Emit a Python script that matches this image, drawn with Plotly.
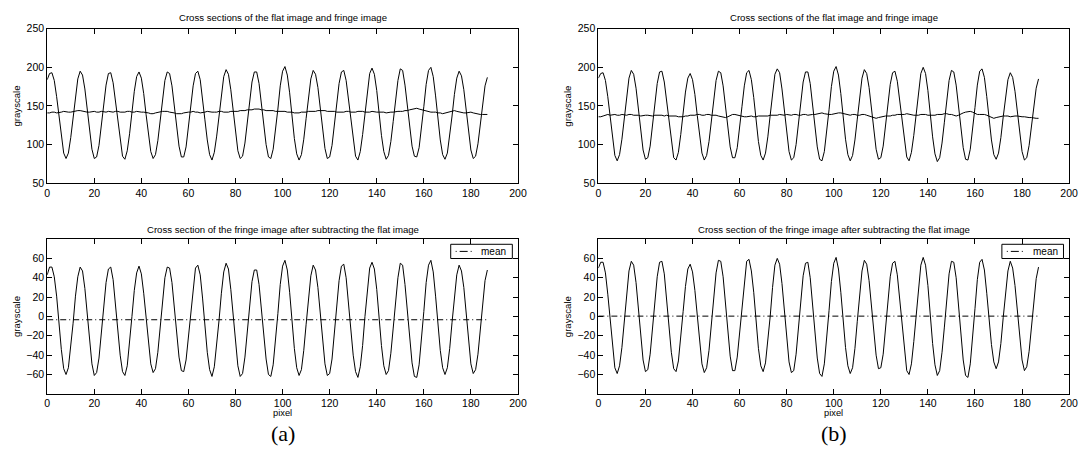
import plotly.graph_objects as go

W, H = 1090, 458

# ---------------- data ----------------
fringe_a = [
    184, 192, 193, 183, 162, 135, 108, 89, 82, 89,
    109, 136, 164, 185, 195, 190, 172, 146, 117, 94,
    82, 84, 99, 125, 153, 177, 192, 193, 180, 156,
    128, 102, 85, 81, 92, 114, 142, 169, 188, 194,
    186, 166, 139, 112, 91, 82, 87, 105, 132, 160,
    183, 194, 192, 176, 150, 122, 98, 84, 84, 97,
    121, 150, 176, 192, 195, 184, 161, 132, 106, 87,
    80, 90, 111, 139, 167, 188, 197, 191, 171, 143,
    115, 92, 82, 85, 102, 128, 156, 181, 194, 194,
    179, 154, 125, 100, 84, 82, 94, 117, 146, 176,
    195, 201, 190, 167, 136, 108, 88, 80, 87, 107,
    134, 163, 185, 196, 191, 174, 147, 119, 95, 82,
    84, 99, 124, 153, 179, 194, 196, 183, 158, 129,
    102, 85, 80, 91, 113, 142, 171, 192, 199, 191,
    170, 140, 112, 91, 81, 86, 104, 130, 159, 183,
    198, 196, 177, 151, 122, 98, 85, 84, 96, 119,
    149, 178, 196, 200, 188, 163, 133, 106, 87, 81,
    89, 110, 137, 165, 186, 195, 189, 171, 144, 116,
    93, 82, 85, 101, 127, 154, 176, 187,
]
flat_a = [
    141, 141, 142, 142, 141, 142, 142, 143, 142, 142,
    142, 143, 143, 144, 144, 143, 143, 142, 142, 143,
    143, 142, 142, 143, 142, 142, 143, 142, 142, 143,
    143, 142, 142, 142, 143, 143, 142, 142, 143, 142,
    142, 142, 141, 141, 140, 140, 141, 142, 143, 143,
    143, 143, 142, 141, 141, 140, 140, 140, 141, 142,
    142, 142, 143, 142, 142, 141, 142, 142, 143, 142,
    142, 142, 142, 143, 143, 142, 142, 142, 143, 143,
    143, 143, 144, 144, 144, 145, 145, 145, 146, 146,
    146, 145, 145, 144, 144, 144, 144, 143, 143, 143,
    143, 143, 142, 142, 142, 141, 141, 141, 142, 142,
    142, 143, 143, 143, 143, 144, 144, 144, 144, 143,
    143, 143, 143, 142, 142, 142, 142, 143, 143, 142,
    142, 142, 143, 143, 143, 142, 142, 142, 143, 142,
    142, 142, 142, 142, 141, 142, 142, 142, 143, 143,
    143, 143, 144, 144, 145, 146, 147, 147, 146, 145,
    144, 143, 143, 142, 142, 142, 141, 141, 140, 141,
    142, 143, 143, 144, 143, 142, 142, 141, 141, 142,
    142, 141, 140, 140, 139, 139, 139, 139,
]
fringe_b = [
    186, 192, 193, 183, 162, 134, 106, 86, 79, 87,
    107, 135, 163, 186, 196, 191, 173, 145, 117, 93,
    81, 83, 98, 124, 153, 179, 194, 195, 181, 156,
    127, 100, 83, 80, 90, 113, 141, 168, 186, 192,
    184, 165, 138, 110, 89, 80, 86, 104, 131, 160,
    183, 195, 193, 176, 149, 121, 97, 83, 83, 96,
    120, 149, 176, 193, 196, 184, 161, 131, 104, 86,
    80, 89, 110, 138, 168, 191, 198, 193, 172, 143,
    113, 91, 80, 83, 100, 126, 156, 181, 194, 194,
    179, 153, 124, 97, 81, 79, 91, 115, 145, 175,
    195, 201, 190, 166, 135, 107, 87, 79, 86, 106,
    133, 163, 186, 197, 192, 174, 146, 118, 94, 81,
    83, 98, 123, 152, 178, 193, 195, 182, 157, 128,
    101, 84, 79, 90, 112, 141, 171, 192, 200, 192,
    170, 139, 110, 88, 78, 83, 102, 129, 159, 183,
    196, 194, 177, 151, 121, 96, 81, 80, 94, 118,
    148, 177, 195, 198, 187, 162, 132, 106, 87, 81,
    89, 109, 136, 164, 184, 193, 187, 169, 143, 114,
    91, 80, 83, 99, 125, 152, 173, 185,
]
flat_b = [
    136, 136, 137, 138, 139, 138, 139, 139, 138, 138,
    139, 138, 138, 139, 139, 138, 138, 138, 137, 138,
    138, 138, 137, 137, 138, 138, 138, 138, 137, 138,
    137, 137, 137, 137, 136, 136, 136, 137, 137, 138,
    138, 138, 139, 139, 138, 138, 139, 139, 138, 138,
    138, 137, 136, 135, 135, 136, 138, 139, 139, 138,
    137, 136, 136, 136, 137, 137, 136, 136, 137, 137,
    137, 137, 137, 138, 138, 138, 138, 139, 138, 138,
    139, 138, 138, 139, 139, 138, 138, 139, 139, 138,
    139, 139, 139, 140, 140, 141, 140, 139, 139, 139,
    140, 140, 141, 141, 140, 139, 138, 138, 139, 139,
    138, 138, 139, 139, 138, 137, 136, 135, 134, 135,
    136, 137, 137, 137, 137, 138, 138, 139, 139, 139,
    139, 140, 139, 139, 138, 138, 138, 139, 139, 139,
    138, 138, 138, 138, 139, 139, 139, 140, 140, 139,
    139, 138, 137, 138, 140, 141, 142, 143, 143, 142,
    140, 139, 139, 139, 139, 138, 137, 135, 134, 135,
    136, 137, 137, 137, 137, 136, 137, 137, 137, 136,
    136, 136, 135, 135, 135, 134, 134, 134,
]

x_ticks = [0, 20, 40, 60, 80, 100, 120, 140, 160, 180, 200]
top_yticks = [50, 100, 150, 200, 250]
bot_yticks = [-60, -40, -20, 0, 20, 40, 60]

title_top = "Cross sections of the flat image and fringe image"
title_bot = "Cross section of the fringe image after subtracting the flat image"
panel_labels = ["(a)", "(b)"]
legend_label = "mean"

# ---------------- figure ----------------
FONT = "Liberation Sans"
fig = go.Figure()


def px(x):
    return x / W


def py(y):
    return 1 - y / H


panels = [
    dict(fr=fringe_a, fl=flat_a, x0=44.7),
    dict(fr=fringe_b, fl=flat_b, x0=602.0),
]
PW = 476.0
top_y = (23.3, 182.0)
bot_y = (239.3, 398.3)
MEAN_DASH = "6px,3px,1px,3px"

annotations = []
shapes = []
for i, p in enumerate(panels):
    n = min(len(p["fr"]), len(p["fl"]))
    xs = list(range(n))
    fr = p["fr"][:n]
    fl = p["fl"][:n]
    diff = [a - b for a, b in zip(fr, fl)]
    mean = sum(diff) / len(diff)
    top_idx = 2 * i + 1
    bot_idx = 2 * i + 2
    xt = "x" if top_idx == 1 else "x%d" % top_idx
    yt = "y" if top_idx == 1 else "y%d" % top_idx
    xb = "x%d" % bot_idx
    yb = "y%d" % bot_idx
    line = dict(color="black", width=1)
    fig.add_trace(go.Scatter(x=xs, y=fr, mode="lines", line=line, xaxis=xt, yaxis=yt, showlegend=False))
    fig.add_trace(go.Scatter(x=xs, y=fl, mode="lines", line=line, xaxis=xt, yaxis=yt, showlegend=False))
    fig.add_trace(go.Scatter(x=xs, y=diff, mode="lines", line=line, xaxis=xb, yaxis=yb, showlegend=False))
    fig.add_trace(go.Scatter(x=[xs[0], xs[-1]], y=[mean, mean], mode="lines", name=legend_label,
                             line=dict(color="black", width=1, dash=MEAN_DASH),
                             xaxis=xb, yaxis=yb, showlegend=False))

    xdom = [px(p["x0"]), px(p["x0"] + PW)]
    common = dict(showline=True, linecolor="black", linewidth=1, mirror="ticks",
                  ticks="inside", ticklen=5, tickcolor="black", tickwidth=1,
                  showgrid=False, zeroline=False,
                  tickfont=dict(family=FONT, size=10.5, color="black"))
    topname = "xaxis" if top_idx == 1 else "xaxis%d" % top_idx
    topyname = "yaxis" if top_idx == 1 else "yaxis%d" % top_idx
    fig.update_layout(**{
        topname: dict(domain=xdom, anchor=yt, range=[0, 200], tickvals=x_ticks, **common),
        topyname: dict(domain=[py(top_y[1]), py(top_y[0])], anchor=xt, range=[50, 250],
                       tickvals=top_yticks, **common),
        "xaxis%d" % bot_idx: dict(domain=xdom, anchor=yb, range=[0, 200], tickvals=x_ticks, **common),
        "yaxis%d" % bot_idx: dict(domain=[py(bot_y[1]), py(bot_y[0])], anchor=xb, range=[-80, 80],
                                  tickvals=bot_yticks,
                                  ticktext=[("\u2212%d" % -v) if v < 0 else str(v) for v in bot_yticks],
                                  **common),
    })
    cx = p["x0"] + PW / 2
    tfont = dict(family=FONT, size=9.6, color="black")
    annotations += [
        dict(text=title_top, x=px(cx), y=py(12), xref="paper", yref="paper", showarrow=False,
             xanchor="center", yanchor="middle", font=tfont),
        dict(text=title_bot, x=px(cx), y=py(229), xref="paper", yref="paper", showarrow=False,
             xanchor="center", yanchor="middle", font=tfont),
        dict(text="grayscale", x=px(p["x0"] - 31), y=py((top_y[0] + top_y[1]) / 2), xref="paper", yref="paper",
             showarrow=False, textangle=-90, xanchor="center", yanchor="middle", font=tfont),
        dict(text="grayscale", x=px(p["x0"] - 31), y=py((bot_y[0] + bot_y[1]) / 2), xref="paper", yref="paper",
             showarrow=False, textangle=-90, xanchor="center", yanchor="middle", font=tfont),
        dict(text="pixel", x=px(cx), y=py(417.5), xref="paper", yref="paper", showarrow=False,
             xanchor="center", yanchor="middle", font=dict(family=FONT, size=9.3, color="black")),
        dict(text=panel_labels[i], x=px(cx), y=py(439), xref="paper", yref="paper", showarrow=False,
             xanchor="center", yanchor="middle", font=dict(family="Liberation Serif", size=22, color="black")),
    ]
    # legend box of the lower plot
    lx0 = p["x0"] + 408.0
    lx1 = p["x0"] + 470.3
    ly0, ly1 = 244.7, 259.3
    lyc = (ly0 + ly1) / 2
    shapes += [
        dict(type="rect", xref="paper", yref="paper", x0=px(lx0), x1=px(lx1), y0=py(ly1), y1=py(ly0),
             line=dict(color="black", width=1), fillcolor="white", layer="above"),
        dict(type="line", xref="paper", yref="paper", x0=px(lx0 + 5), x1=px(lx0 + 24), y0=py(lyc), y1=py(lyc),
             line=dict(color="black", width=1, dash="1px,3px,8px,3px,1px,3px"), layer="above"),
    ]
    annotations.append(dict(text=legend_label, x=px(lx0 + 29), y=py(lyc), xref="paper", yref="paper",
                            showarrow=False, xanchor="left", yanchor="middle",
                            font=dict(family=FONT, size=10, color="black")))

fig.update_layout(
    width=W, height=H, margin=dict(l=0, r=0, t=0, b=0),
    paper_bgcolor="white", plot_bgcolor="white",
    annotations=annotations, shapes=shapes, showlegend=False,
)
fig.write_html("out.html")
